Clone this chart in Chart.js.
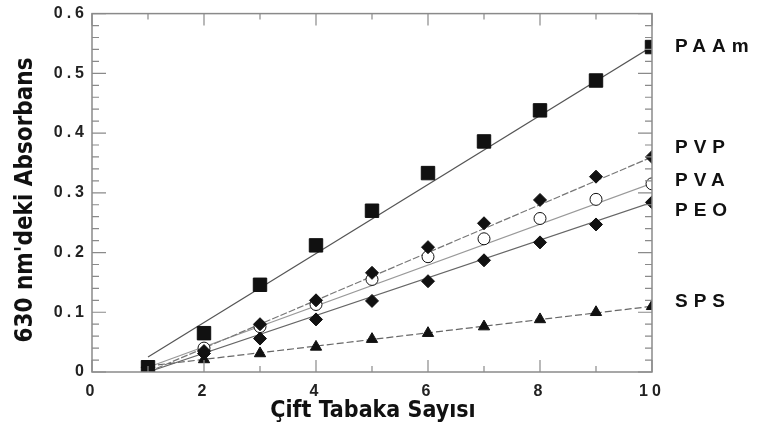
<!DOCTYPE html>
<html>
<head>
<meta charset="utf-8">
<script src="https://cdn.jsdelivr.net/npm/chart.js@4"></script>
<style>
  html, body { margin: 0; padding: 0; background: #fff; }
  canvas { display: block; }
</style>
</head>
<body>
<canvas id="absChart" width="760" height="437"></canvas>
<script>
// Çift tabaka sayısı (x)
const layers = [1, 2, 3, 4, 5, 6, 7, 8, 9, 10];
// 630 nm absorbans değerleri
const paam = [0.008, 0.065, 0.146, 0.212, 0.27, 0.333, 0.386, 0.438, 0.488, 0.544];
const pvp = [0.008, 0.035, 0.08, 0.12, 0.166, 0.209, 0.249, 0.288, 0.327, 0.36];
const pva = [0.008, 0.04, 0.076, 0.113, 0.155, 0.193, 0.223, 0.257, 0.289, 0.315];
const peo = [0.008, 0.031, 0.056, 0.088, 0.119, 0.152, 0.187, 0.217, 0.247, 0.284];
const sps = [0.008, 0.021, 0.031, 0.042, 0.055, 0.065, 0.076, 0.088, 0.1, 0.11];

// doğrusal uyum çizgileri (x = 1 ve x = 10 uçları)
const fitX = [1, 10];
const paamFit = [0.025, 0.545];
const pvpFit = [0.0, 0.36];
const pvaFit = [0.008, 0.316];
const peoFit = [0.0, 0.284];
const spsFit = [0.01, 0.11];

const seriesNames = ['PAAm', 'PVP', 'PVA', 'PEO', 'SPS'];
const xTitle = 'Çift Tabaka Sayısı';
const yTitle = "630 nm'deki Absorbans";

const pts = (ys, xs = layers) => xs.map((x, i) => ({ x, y: ys[i] }));

function markerSet(name, ys, style, radius, fill) {
  return {
    label: name,
    data: pts(ys),
    showLine: false,
    pointStyle: style,
    pointRadius: radius,
    pointBackgroundColor: fill,
    pointBorderColor: '#111',
    pointBorderWidth: 1,
    order: 0,
  };
}

function fitSet(ys, color, dash) {
  return {
    label: 'fit',
    data: pts(ys, fitX),
    showLine: true,
    borderColor: color,
    borderWidth: 1.2,
    borderDash: dash,
    pointRadius: 0,
    order: 1,
  };
}

// iç tik işaretleri + çerçeve
const framePlugin = {
  id: 'frame',
  beforeDraw(chart) {
    chart.ctx.letterSpacing = '4px';
  },
  afterDatasetsDraw(chart) {
    const { ctx, chartArea: a, scales } = chart;
    const xs = scales.x, ys = scales.y;
    ctx.save();
    ctx.letterSpacing = '0px';
    ctx.strokeStyle = '#8a8a8a';
    ctx.lineWidth = 1.5;
    ctx.strokeRect(a.left, a.top, a.right - a.left, a.bottom - a.top);
    ctx.lineWidth = 1.2;
    ctx.beginPath();
    for (let v = 0; v <= 10; v++) {
      const px = xs.getPixelForValue(v);
      const len = v % 2 === 0 ? 12 : 6;
      ctx.moveTo(px, a.bottom); ctx.lineTo(px, a.bottom - len);
      ctx.moveTo(px, a.top); ctx.lineTo(px, a.top + len);
    }
    for (let k = 0; k <= 30; k++) {
      const py = ys.getPixelForValue(k * 0.02);
      const len = k % 5 === 0 ? 14 : 7;
      ctx.moveTo(a.left, py); ctx.lineTo(a.left + len, py);
      ctx.moveTo(a.right, py); ctx.lineTo(a.right - len, py);
    }
    ctx.stroke();
    ctx.restore();
  },
  afterDraw(chart) {
    const { ctx, chartArea: a, scales } = chart;
    ctx.save();
    ctx.letterSpacing = '0px';
    ctx.fillStyle = '#111';
    // eksen başlıkları
    ctx.font = 'bold 23px "DejaVu Sans Condensed", "DejaVu Sans", sans-serif';
    ctx.textAlign = 'center';
    ctx.textBaseline = 'middle';
    ctx.fillText(xTitle, 373, 411);
    ctx.save();
    ctx.translate(26, 200);
    ctx.rotate(-Math.PI / 2);
    ctx.font = 'bold 24px "DejaVu Sans Condensed", "DejaVu Sans", sans-serif';
    ctx.fillText(yTitle, 0, 0);
    ctx.restore();
    // seri etiketleri
    ctx.font = 'bold 19px "Liberation Sans", Arial, sans-serif';
    ctx.textAlign = 'left';
    ctx.letterSpacing = '6px';
    const offsets = [0, -9, -3, 8, -5];
    const markers = chart.data.datasets.filter((d) => d.order === 0);
    markers.forEach((d, i) => {
      const last = d.data[d.data.length - 1];
      const py = scales.y.getPixelForValue(last.y) + offsets[i];
      ctx.fillText(seriesNames[i], a.right + 23, py);
    });
    ctx.restore();
  },
};

const tickFont = { family: '"Liberation Sans", Arial, sans-serif', size: 16, weight: 'bold' };

new Chart(document.getElementById('absChart'), {
  type: 'scatter',
  data: {
    datasets: [
      markerSet(seriesNames[0], paam, 'rect', 9.5, '#111'),
      markerSet(seriesNames[1], pvp, 'rectRot', 6.5, '#111'),
      markerSet(seriesNames[2], pva, 'circle', 6, '#fff'),
      markerSet(seriesNames[3], peo, 'rectRot', 6.5, '#111'),
      markerSet(seriesNames[4], sps, 'triangle', 6.5, '#111'),
      fitSet(paamFit, '#555', []),
      fitSet(pvpFit, '#777', [7, 2]),
      fitSet(pvaFit, '#999', []),
      fitSet(peoFit, '#666', []),
      fitSet(spsFit, '#666', [7, 3]),
    ],
  },
  options: {
    responsive: false,
    animation: false,
    events: [],
    layout: { padding: { left: 0, right: 108, top: 10, bottom: 0 } },
    plugins: { legend: { display: false }, tooltip: { enabled: false } },
    scales: {
      x: {
        type: 'linear',
        min: 0,
        max: 10,
        grid: { display: false, drawTicks: false },
        border: { display: false },
        ticks: { stepSize: 2, padding: 10, color: '#222', font: tickFont, maxRotation: 0 },
        afterFit(scale) { scale.height = 65; },
      },
      y: {
        type: 'linear',
        min: 0,
        max: 0.6,
        grid: { display: false, drawTicks: false },
        border: { display: false },
        ticks: {
          stepSize: 0.1,
          padding: 4,
          color: '#222',
          font: tickFont,
          callback: (v) => (v === 0 ? '0' : v.toFixed(1)),
        },
        afterFit(scale) { scale.width = 92; },
      },
    },
  },
  plugins: [framePlugin],
});
</script>
</body>
</html>
